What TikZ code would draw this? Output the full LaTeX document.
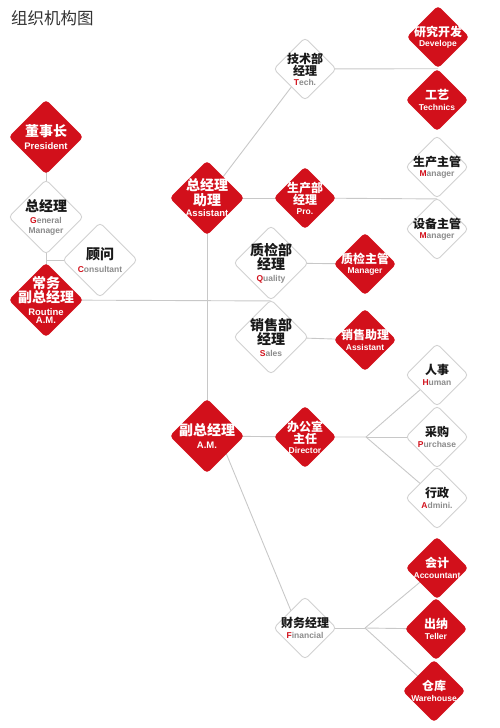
\documentclass[tikz,border=0pt]{standalone}
\usepackage{fontspec}
\newfontfamily\cjk{Noto Sans CJK SC}
\newfontfamily\en{Liberation Sans}
\usetikzlibrary{shapes.geometric, calc}
\definecolor{orgred}{HTML}{D2101B}
\definecolor{engray}{HTML}{8C8C8C}
\definecolor{linegray}{HTML}{C8C8C8}
\pgfdeclarelayer{bg}
\pgfsetlayers{bg,main}
% English captions
\newcommand{\enbig}[1]{{\en\fontsize{9.5}{10}\selectfont #1}}
\newcommand{\ensm}[1]{{\en\fontsize{8.5}{9}\selectfont #1}}
\newcommand{\enw}[2]{{\en\fontsize{8.5}{9}\selectfont\textcolor{orgred}{#1}\textcolor{engray}{#2}}}

\begin{document}
\begin{tikzpicture}[x=1pt, y=-1pt,
    bigred/.style={diamond, aspect=1, minimum size=75pt, inner sep=0pt, fill=orgred, rounded corners=4pt},
    smallred/.style={bigred, minimum size=63pt},
    bigwhite/.style={diamond, aspect=1, minimum size=75pt, inner sep=0pt, fill=white, draw=gray!35, line width=0.9pt, rounded corners=4pt},
    smallwhite/.style={bigwhite, minimum size=63pt},
    rtxt/.style={align=center, inner sep=0pt, text=white, font=\cjk\bfseries\fontsize{14}{15.5}\selectfont},
    wtxt/.style={rtxt, text=black!90},
    rtxtsm/.style={rtxt, font=\cjk\bfseries\fontsize{12}{13.5}\selectfont},
    wtxtsm/.style={rtxtsm, text=black!90},
    conn/.style={draw=linegray, line width=0.9pt}]
    \useasboundingbox (0,0) rectangle (500,728);

    % titolo
    \node[anchor=west, inner sep=0pt, text=black!80, font=\cjk\fontsize{16.5}{17}\selectfont] (title) at (11,18) {组织机构图};

    % colonna sinistra
    \node[bigred, label={[rtxt]center:{董事长\\[-2pt]\enbig{President}}}] (dsz) at (46,137) {};
    \node[bigwhite, label={[wtxt]center:{总经理\\[-3pt]\enw{G}{eneral}\\[-6pt]\enw{}{Manager}}}] (zjl) at (46,217) {};
    \node[bigwhite, label={[wtxt]center:{顾问\\[-3pt]\enw{C}{onsultant}}}] (gw) at (100,260) {};
    \node[bigred, label={[rtxt]center:{常务\\[-1pt]副总经理\\[-3pt]\enbig{Routine}\\[-7pt]\enbig{A.M.}}}] (cw) at (46,300) {};

    % assistente e reparti
    \node[bigred, label={[rtxt]center:{总经理\\[-1pt]助理\\[-4pt]\enbig{Assistant}}}] (zzl) at (207,198) {};
    \node[smallwhite, label={[wtxtsm]center:{技术部\\[-1pt]经理\\[-4pt]\enw{T}{ech.}}}] (js) at (305,69) {};
    \node[smallred, label={[rtxtsm]center:{研究开发\\[-3pt]\ensm{Develope}}}] (yf) at (438,37) {};
    \node[smallred, label={[rtxtsm]center:{工艺\\[-3pt]\ensm{Technics}}}] (gy) at (437,100) {};
    \node[smallred, label={[rtxtsm]center:{生产部\\[-1pt]经理\\[-4pt]\ensm{Pro.}}}] (sc) at (305,198) {};
    \node[smallwhite, label={[wtxtsm]center:{生产主管\\[-3pt]\enw{M}{anager}}}] (sczg) at (437,167) {};
    \node[smallwhite, label={[wtxtsm]center:{设备主管\\[-3pt]\enw{M}{anager}}}] (sb) at (437,229) {};
    \node[bigwhite, label={[wtxt]center:{质检部\\[-1pt]经理\\[-4pt]\enw{Q}{uality}}}] (zj) at (271,263) {};
    \node[smallred, label={[rtxtsm]center:{质检主管\\[-3pt]\ensm{Manager}}}] (zjzg) at (365,264) {};
    \node[bigwhite, label={[wtxt]center:{销售部\\[-1pt]经理\\[-4pt]\enw{S}{ales}}}] (xs) at (271,337) {};
    \node[smallred, label={[rtxtsm]center:{销售助理\\[-3pt]\ensm{Assistant}}}] (xszl) at (365,340) {};

    % vice direttore
    \node[bigred, label={[rtxt]center:{副总经理\\[-2pt]\enbig{A.M.}}}] (fz) at (207,436) {};
    \node[smallred, label={[rtxtsm]center:{办公室\\[-1pt]主任\\[-4pt]\ensm{Director}}}] (bgs) at (305,437) {};
    \node[smallwhite, label={[wtxtsm]center:{人事\\[-3pt]\enw{H}{uman}}}] (rs) at (437,375) {};
    \node[smallwhite, label={[wtxtsm]center:{采购\\[-3pt]\enw{P}{urchase}}}] (cg) at (437,437) {};
    \node[smallwhite, label={[wtxtsm]center:{行政\\[-3pt]\enw{A}{dmini.}}}] (xz) at (437,498) {};
    \node[smallwhite, label={[wtxtsm]center:{财务经理\\[-3pt]\enw{F}{inancial}}}] (cwjl) at (305,628) {};
    \node[smallred, label={[rtxtsm]center:{会计\\[-3pt]\ensm{Accountant}}}] (kj) at (437,568) {};
    \node[smallred, label={[rtxtsm]center:{出纳\\[-3pt]\ensm{Teller}}}] (cn) at (436,629) {};
    \node[smallred, label={[rtxtsm]center:{仓库\\[-3pt]\ensm{Warehouse}}}] (ck) at (434,691) {};

    % punti di diramazione
    \coordinate (jbgs) at (366,437);
    \coordinate (jcw) at (365,628);

    % collegamenti
    \begin{pgfonlayer}{bg}
        \draw[conn] (dsz.center) -- (cw.center);
        \draw[conn] (gw.center) -- (gw.center -| zjl.center);
        \draw[conn] (cw.center) -- (zj.south);
        \draw[conn] (zzl.center) -- (fz.center);
        \draw[conn] (zzl.center) -- (js.center);
        \draw[conn] (js.center) -- (yf.south);
        \draw[conn] (zzl.center) -- (sc.center);
        \draw[conn] (sc.center) -- (sczg.south);
        \draw[conn] (zj.center) -- (zjzg.center);
        \draw[conn] (xs.center) -- (xszl.center);
        \draw[conn] (fz.center) -- (bgs.center) -- (jbgs);
        \draw[conn] (jbgs) -- (rs.center);
        \draw[conn] (jbgs) -- (cg.center);
        \draw[conn] (jbgs) -- (xz.center);
        \draw[conn] ($(fz.center)+(12,0)$) -- ($(cwjl.center)+(-7,0)$);
        \draw[conn] (cwjl.center) -- (jcw);
        \draw[conn] (jcw) -- (kj.center);
        \draw[conn] (jcw) -- (cn.center);
        \draw[conn] (jcw) -- (ck.center);
    \end{pgfonlayer}
\end{tikzpicture}
\end{document}
